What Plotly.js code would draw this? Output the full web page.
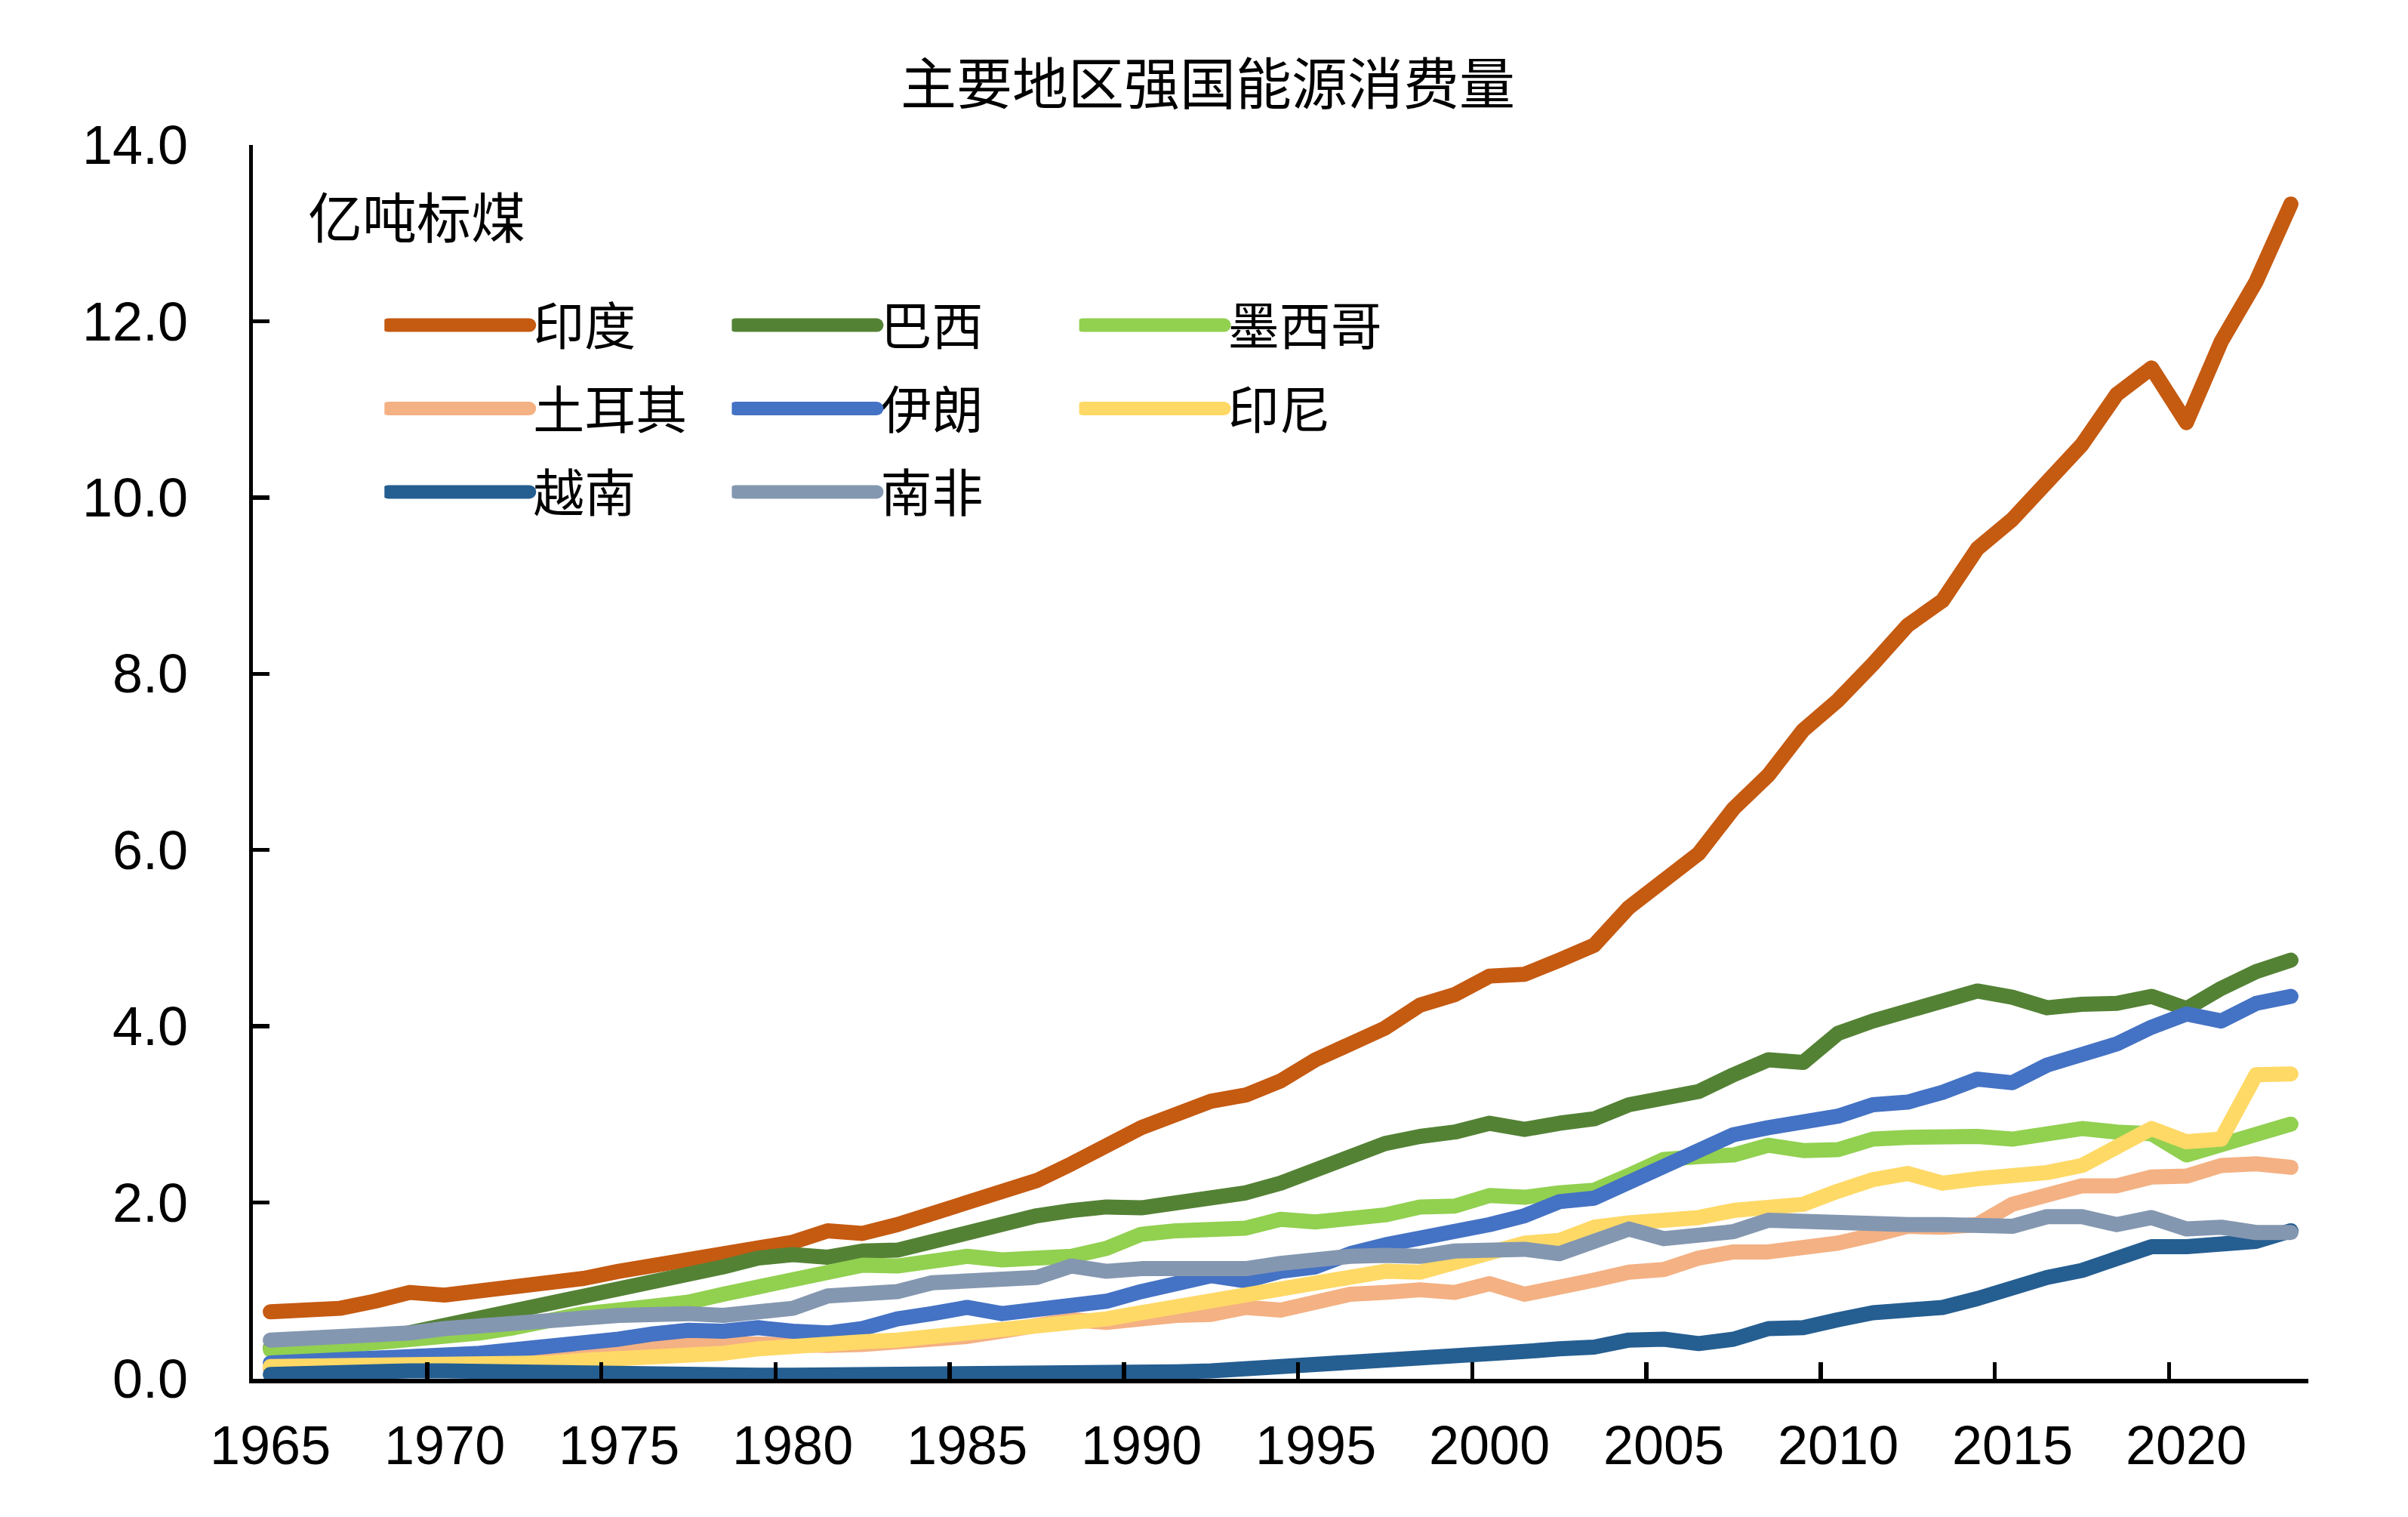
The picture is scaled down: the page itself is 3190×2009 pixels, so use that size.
<!DOCTYPE html>
<html>
<head>
<meta charset="utf-8">
<script src="https://cdn.plot.ly/plotly-3.0.1.min.js"></script>
<style>
html,body{margin:0;padding:0;background:#fff;}
#chart{width:3190px;height:2009px;}
.js-line{stroke-linecap:round !important;stroke-linejoin:round !important;}
</style>
</head>
<body>
<div id="chart"></div>
<script>
const years = [1965,1966,1967,1968,1969,1970,1971,1972,1973,1974,
  1975,1976,1977,1978,1979,1980,1981,1982,1983,1984,
  1985,1986,1987,1988,1989,1990,1991,1992,1993,1994,
  1995,1996,1997,1998,1999,2000,2001,2002,2003,2004,
  2005,2006,2007,2008,2009,2010,2011,2012,2013,2014,
  2015,2016,2017,2018,2019,2020,2021,2022,2023];

const india = [0.76,0.79,0.80,0.88,0.98,0.95,0.99,1.05,1.06,1.14,
  1.22,1.29,1.37,1.44,1.51,1.55,1.68,1.65,1.75,1.88,
  1.99,2.14,2.25,2.44,2.65,2.85,3.00,3.15,3.22,3.38,
  3.62,3.79,3.98,4.24,4.36,4.57,4.59,4.75,4.92,5.35,
  5.65,5.96,6.47,6.85,7.36,7.70,8.11,8.55,8.83,9.42,
  9.75,10.20,10.60,11.17,11.47,10.85,11.77,12.45,13.33];

const brazil = [0.35,0.36,0.38,0.44,0.52,0.62,0.68,0.75,0.87,0.95,
  0.99,1.08,1.17,1.27,1.37,1.41,1.38,1.45,1.46,1.56,
  1.69,1.79,1.85,1.91,1.95,1.94,1.99,2.02,2.11,2.22,
  2.36,2.52,2.67,2.75,2.80,2.90,2.83,2.90,2.95,3.11,
  3.18,3.26,3.45,3.62,3.59,3.92,4.06,4.17,4.27,4.40,
  4.33,4.21,4.25,4.26,4.34,4.20,4.43,4.62,4.75];

const mexico = [0.33,0.34,0.37,0.41,0.44,0.48,0.52,0.58,0.67,0.74,
  0.78,0.82,0.87,0.96,1.04,1.12,1.22,1.29,1.28,1.34,
  1.39,1.35,1.39,1.39,1.48,1.64,1.68,1.71,1.71,1.81,
  1.78,1.82,1.86,1.95,1.96,2.08,2.06,2.11,2.14,2.31,
  2.49,2.52,2.54,2.65,2.59,2.60,2.72,2.74,2.76,2.75,
  2.72,2.79,2.84,2.80,2.78,2.54,2.66,2.78,2.89];

const turkey = [0.11,0.12,0.13,0.14,0.15,0.16,0.17,0.19,0.21,0.24,
  0.31,0.38,0.41,0.40,0.38,0.36,0.38,0.39,0.41,0.44,
  0.48,0.54,0.62,0.67,0.64,0.69,0.72,0.73,0.81,0.78,
  0.89,0.96,0.98,1.01,0.98,1.08,0.96,1.06,1.12,1.21,
  1.24,1.37,1.44,1.44,1.47,1.54,1.63,1.73,1.72,1.75,
  1.98,2.07,2.19,2.19,2.29,2.30,2.42,2.44,2.40];

const iran = [0.18,0.19,0.21,0.22,0.25,0.27,0.29,0.32,0.37,0.41,
  0.45,0.51,0.55,0.54,0.58,0.54,0.52,0.57,0.68,0.74,
  0.81,0.74,0.78,0.80,0.88,0.99,1.08,1.17,1.11,1.22,
  1.27,1.42,1.52,1.59,1.68,1.75,1.85,2.01,2.05,2.24,
  2.39,2.60,2.77,2.85,2.91,2.98,3.11,3.14,3.25,3.40,
  3.36,3.56,3.68,3.80,3.99,4.14,4.06,4.26,4.34];

const indonesia = [0.14,0.14,0.15,0.15,0.16,0.16,0.16,0.17,0.18,0.21,
  0.23,0.21,0.26,0.29,0.34,0.38,0.41,0.42,0.44,0.48,
  0.51,0.54,0.57,0.62,0.68,0.75,0.82,0.91,0.97,1.01,
  1.09,1.19,1.22,1.21,1.32,1.40,1.54,1.57,1.72,1.77,
  1.80,1.83,1.91,1.93,1.98,2.13,2.26,2.33,2.22,2.27,
  2.30,2.34,2.42,2.65,2.84,2.69,2.72,3.45,3.46];

const vietnam = [0.05,0.07,0.08,0.08,0.09,0.09,0.08,0.08,0.08,0.07,
  0.07,0.04,0.04,0.04,0.04,0.04,0.04,0.05,0.05,0.05,
  0.05,0.06,0.06,0.06,0.07,0.07,0.08,0.09,0.11,0.13,
  0.15,0.18,0.21,0.24,0.24,0.27,0.31,0.34,0.36,0.44,
  0.45,0.40,0.45,0.57,0.58,0.67,0.75,0.78,0.81,0.91,
  1.04,1.15,1.23,1.37,1.50,1.50,1.52,1.56,1.68];

const southAfrica = [0.44,0.45,0.48,0.51,0.52,0.57,0.59,0.64,0.67,0.69,
  0.72,0.74,0.74,0.72,0.74,0.80,0.94,0.98,0.99,1.09,
  1.12,1.14,1.15,1.28,1.22,1.25,1.25,1.25,1.25,1.31,
  1.37,1.39,1.40,1.39,1.45,1.47,1.47,1.42,1.55,1.70,
  1.59,1.62,1.67,1.80,1.78,1.80,1.77,1.75,1.75,1.76,
  1.73,1.84,1.84,1.75,1.83,1.70,1.72,1.66,1.66];

const seriesNames = ['印度','巴西','墨西哥','土耳其','伊朗','印尼','越南','南非'];
const seriesValues = [india, brazil, mexico, turkey, iran, indonesia, vietnam, southAfrica];
const seriesColors = ['#C55A11','#548235','#92D050','#F4B183','#4472C4','#FFD966','#255E91','#8497B0'];
const seriesLegend = ['legend','legend2','legend3','legend','legend2','legend3','legend','legend2'];

const xTickVals = [1965,1970,1975,1980,1985,1990,1995,2000,2005,2010,2015,2020];
const xTickText = ['1965','1970','1975','1980','1985','1990','1995','2000','2005','2010','2015','2020'];
const xBoundaryTicks = [1964.5,1969.5,1974.5,1979.5,1984.5,1989.5,1994.5,1999.5,2004.5,2009.5,2014.5,2019.5];
const yTickVals = [0,2,4,6,8,10,12,14];
const yTickText = ['0.0','2.0','4.0','6.0','8.0','10.0','12.0','14.0'];

const titleText = '主要地区强国能源消费量';
const unitText = '亿吨标煤';

const CJK = 'Noto Sans CJK SC';
const LAT = 'Liberation Sans, Arial, sans-serif';

const traces = seriesNames.map((n, i) => ({
  x: years, y: seriesValues[i], type: 'scatter', mode: 'lines', name: n,
  line: {color: seriesColors[i], width: 20},
  legend: seriesLegend[i], legendgroup: n, hoverinfo: 'skip'
}));

const legendBase = {
  orientation: 'v', xanchor: 'left', yanchor: 'top', y: 0.885,
  bgcolor: 'rgba(0,0,0,0)', borderwidth: 0,
  font: {family: CJK, size: 68, color: '#000'},
  itemwidth: 187, tracegroupgap: 19, traceorder: 'grouped'
};

// category labels under the axis, placed through the x scale
const xLabelAnnotations = xTickVals.map((v, i) => ({
  text: xTickText[i], xref: 'x', yref: 'paper', x: v, y: 0,
  xanchor: 'center', yanchor: 'top', yshift: -46, showarrow: false,
  font: {family: LAT, size: 72, color: '#000'}
}));

const layout = {
  width: 3190, height: 2009,
  margin: {l: 335, r: 132, t: 192, b: 183, pad: 0},
  paper_bgcolor: '#fff', plot_bgcolor: '#fff',
  showlegend: true,
  title: {text: titleText, font: {family: CJK, size: 74, color: '#000'},
          x: 0.5016, xref: 'container', xanchor: 'center',
          y: 0.944, yref: 'container', yanchor: 'middle'},
  xaxis: {range: [1964.5, 2023.5], tickmode: 'array', tickvals: xBoundaryTicks,
          ticks: 'inside', ticklen: 22, tickwidth: 5.5, tickcolor: '#000',
          showticklabels: false, showline: true, linecolor: '#000', linewidth: 5.5,
          showgrid: false, zeroline: false},
  yaxis: {range: [0, 14], tickmode: 'array', tickvals: yTickVals, ticktext: yTickText,
          ticks: 'inside', ticklen: 22, tickwidth: 5.5, tickcolor: '#000',
          showline: true, linecolor: '#000', linewidth: 5.5,
          showgrid: false, zeroline: false, ticklabelstandoff: 66,
          tickfont: {family: LAT, size: 72, color: '#000'}},
  legend: Object.assign({}, legendBase, {x: 0.064}),
  legend2: Object.assign({}, legendBase, {x: 0.233}),
  legend3: Object.assign({}, legendBase, {x: 0.402}),
  annotations: [{text: unitText, xref: 'paper', yref: 'paper', x: 0.026, y: 0.944,
                 xanchor: 'left', yanchor: 'middle', showarrow: false,
                 font: {family: CJK, size: 72, color: '#000'}}].concat(xLabelAnnotations)
};

Plotly.newPlot('chart', traces, layout, {displayModeBar: false, staticPlot: true}).then(function () {
  document.querySelectorAll('.infolayer .legend path, .infolayer [class^="legend"] path').forEach(function (p) {
    const d = p.getAttribute('d') || '';
    const s = p.style.stroke || '';
    if (d && s && s !== 'none') {
      p.style.setProperty('stroke-width', '18px', 'important');
      p.style.setProperty('stroke-linecap', 'round', 'important');
    }
  });
});
</script>
</body>
</html>
